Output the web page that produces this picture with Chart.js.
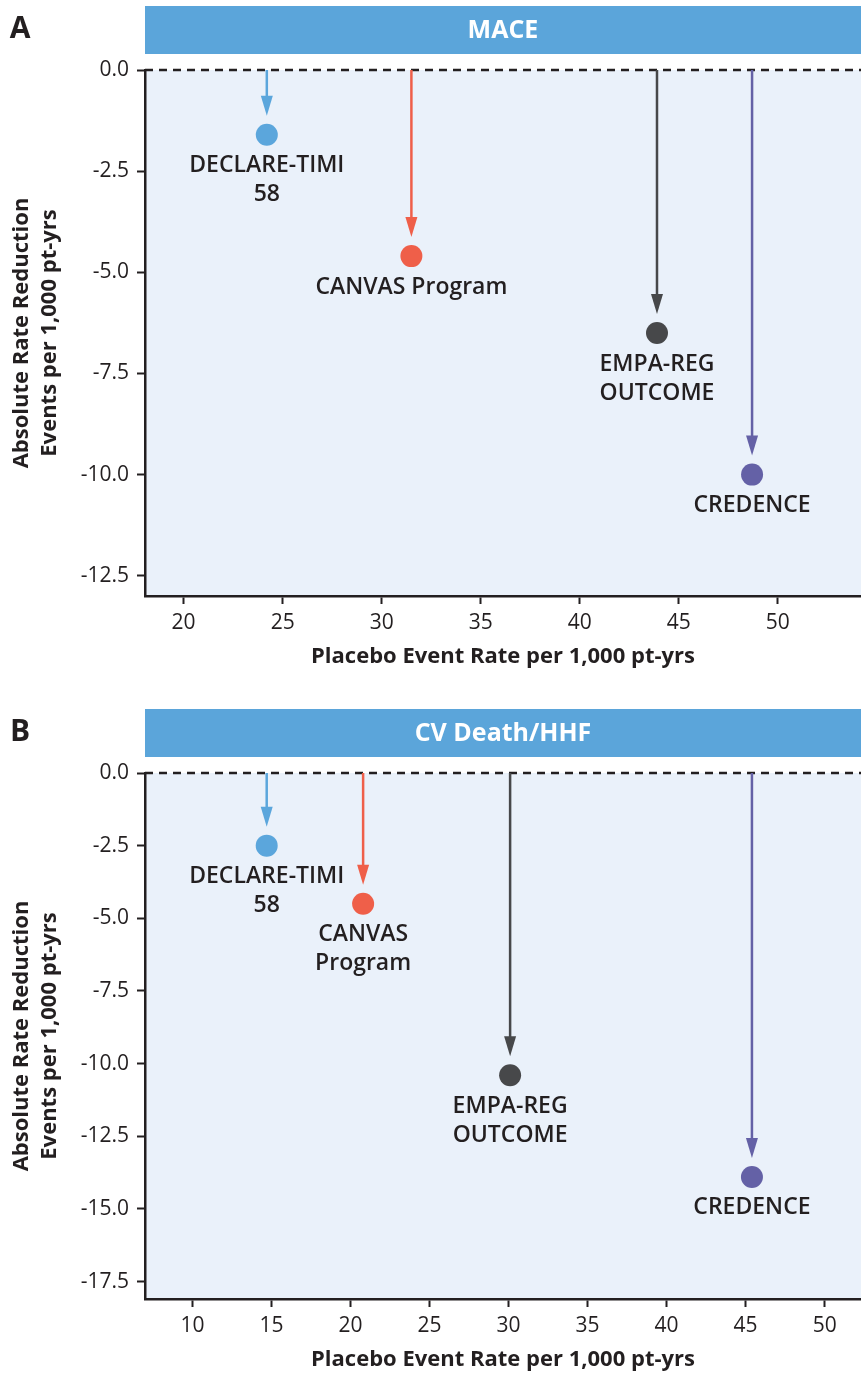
<!DOCTYPE html>
<html>
<head>
<meta charset="utf-8">
<script src="https://cdn.jsdelivr.net/npm/chart.js@4.4.0/dist/chart.umd.min.js"></script>
<style>
  html, body { margin: 0; padding: 0; background: #fff; overflow: hidden; }
  canvas { display: block; position: absolute; left: 0; }
</style>
</head>
<body>
<canvas id="chart-a" width="861" height="671" style="top:0"></canvas>
<canvas id="chart-b" width="861" height="671" style="top:703px"></canvas>
<script>
// trials, same order in both panels
var studyColors = ["#5ba6dc", "#ef5f49", "#47484a", "#6461a6"];

// Panel A - MACE
var maceNames = [["DECLARE-TIMI", "58"], ["CANVAS Program"], ["EMPA-REG", "OUTCOME"], ["CREDENCE"]];
var macePlaceboRate = [24.2, 31.5, 43.9, 48.7];
var maceReduction = [-1.6, -4.6, -6.5, -10.0];
var maceXRange = [18.05, 54.2];
var maceYRange = [-13.0, 0];

// Panel B - CV death / HHF
var hhfNames = [["DECLARE-TIMI", "58"], ["CANVAS", "Program"], ["EMPA-REG", "OUTCOME"], ["CREDENCE"]];
var hhfPlaceboRate = [14.7, 20.8, 30.1, 45.4];
var hhfReduction = [-2.5, -4.5, -10.4, -13.9];
var hhfXRange = [7.0, 52.3];
var hhfYRange = [-18.1, 0];

var textColor = "#231f20";

var decor = {
  id: "decor",
  beforeDraw: function (chart, args, opts) {
    var ctx = chart.ctx, a = chart.chartArea;
    ctx.save();
    ctx.fillStyle = "#eaf1fa";
    ctx.fillRect(a.left, a.top, a.right - a.left, a.bottom - a.top);
    // header bar
    ctx.fillStyle = "#5ba5da";
    ctx.fillRect(a.left, 6, a.right - a.left, 48);
    ctx.fillStyle = "#fff";
    ctx.font = "bold 25px 'Open Sans'";
    ctx.textAlign = "center";
    ctx.textBaseline = "middle";
    ctx.fillText(opts.header, (a.left + a.right) / 2, 31);
    ctx.fillStyle = textColor;
    ctx.font = "bold 30px 'Open Sans'";
    ctx.fillText(opts.letter, 20, 29);
    ctx.restore();
  },
  beforeDatasetsDraw: function (chart) {
    var ctx = chart.ctx, a = chart.chartArea;
    var xs = chart.scales.x, ys = chart.scales.y;
    var y0 = ys.getPixelForValue(0);
    ctx.save();
    ctx.strokeStyle = textColor;
    ctx.lineWidth = 2.5;
    ctx.setLineDash([8, 6]);
    ctx.beginPath();
    ctx.moveTo(a.left, y0);
    ctx.lineTo(a.right, y0);
    ctx.stroke();
    ctx.setLineDash([]);
    chart.data.datasets.forEach(function (ds) {
      var p = ds.data[0];
      var px = xs.getPixelForValue(p.x), py = ys.getPixelForValue(p.y);
      var tip = py - 19;
      ctx.strokeStyle = ds.backgroundColor;
      ctx.fillStyle = ds.backgroundColor;
      ctx.lineWidth = 2.5;
      ctx.beginPath();
      ctx.moveTo(px, y0);
      ctx.lineTo(px, tip - 18);
      ctx.stroke();
      ctx.beginPath();
      ctx.moveTo(px - 6, tip - 20);
      ctx.lineTo(px + 6, tip - 20);
      ctx.lineTo(px, tip);
      ctx.closePath();
      ctx.fill();
    });
    ctx.restore();
  },
  afterDatasetsDraw: function (chart) {
    var ctx = chart.ctx;
    var xs = chart.scales.x, ys = chart.scales.y;
    ctx.save();
    ctx.fillStyle = textColor;
    ctx.font = "600 23px 'Open Sans'";
    ctx.textAlign = "center";
    ctx.textBaseline = "middle";
    chart.data.datasets.forEach(function (ds) {
      var p = ds.data[0];
      var px = xs.getPixelForValue(p.x), py = ys.getPixelForValue(p.y);
      ds.label.forEach(function (line, i) {
        ctx.fillText(line, px, py + 31 + i * 29);
      });
    });
    ctx.restore();
  }
};

function makePanel(id, header, letter, names, xVals, yVals, xRange, yRange) {
  var datasets = names.map(function (n, i) {
    return {
      label: n,
      data: [{ x: xVals[i], y: yVals[i] }],
      backgroundColor: studyColors[i],
      borderWidth: 0,
      pointRadius: 11,
      pointHoverRadius: 11
    };
  });
  var axisFont = { size: 21, family: "Open Sans", weight: "500" };
  var titleFont = { size: 22, family: "Open Sans", weight: "bold", lineHeight: 1.27 };
  return new Chart(document.getElementById(id), {
    type: "scatter",
    data: { datasets: datasets },
    options: {
      responsive: false,
      animation: false,
      devicePixelRatio: 1,
      layout: { autoPadding: false, padding: { top: 70, right: 0, bottom: 0, left: 0 } },
      plugins: {
        legend: { display: false },
        tooltip: { enabled: false },
        decor: { header: header, letter: letter }
      },
      scales: {
        x: {
          type: "linear",
          min: xRange[0],
          max: xRange[1],
          afterFit: function (s) {
            s.height = 75;
            s.paddingLeft = 0;
            s.paddingRight = 0;
          },
          border: { color: textColor, width: 2.5 },
          grid: { drawOnChartArea: false, drawTicks: true, tickLength: 8, tickWidth: 2, color: textColor },
          ticks: { stepSize: 5, includeBounds: false, padding: 6, color: textColor, font: axisFont },
          title: {
            display: true,
            text: "Placebo Event Rate per 1,000 pt-yrs",
            color: textColor,
            font: titleFont,
            padding: { top: 0, bottom: 0 }
          }
        },
        y: {
          type: "linear",
          min: yRange[0],
          max: yRange[1],
          afterFit: function (s) {
            s.width = 145;
            s.paddingTop = 0;
            s.paddingBottom = 0;
          },
          border: { color: textColor, width: 2.5 },
          grid: { drawOnChartArea: false, drawTicks: true, tickLength: 8, tickWidth: 2, color: textColor },
          ticks: {
            stepSize: 2.5,
            includeBounds: false,
            padding: 8,
            color: textColor,
            font: axisFont,
            callback: function (v) { return v.toFixed(1); }
          },
          title: {
            display: true,
            text: ["Absolute Rate Reduction", "Events per 1,000 pt-yrs"],
            color: textColor,
            font: titleFont,
            padding: { top: 8, bottom: 0 }
          }
        }
      }
    },
    plugins: [decor]
  });
}

makePanel("chart-a", "MACE", "A", maceNames, macePlaceboRate, maceReduction, maceXRange, maceYRange);
makePanel("chart-b", "CV Death/HHF", "B", hhfNames, hhfPlaceboRate, hhfReduction, hhfXRange, hhfYRange);
</script>
</body>
</html>
